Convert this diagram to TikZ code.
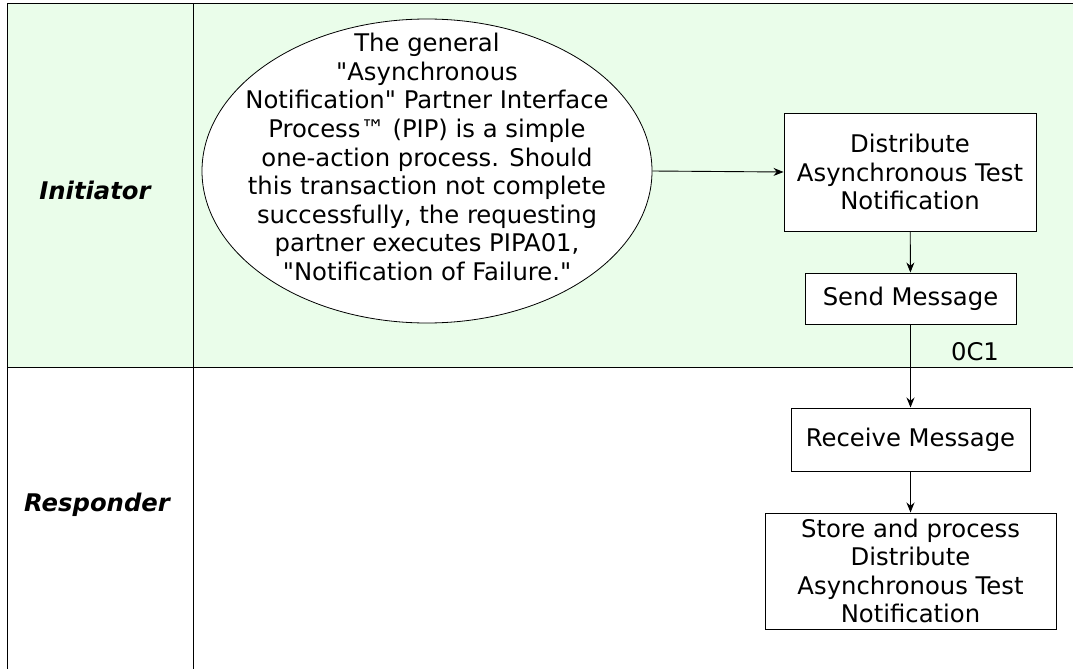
\documentclass[tikz,border=0pt]{standalone}
\usepackage{fontspec}
\setmainfont{DejaVu Sans}[Ligatures=TeXOff]
\usetikzlibrary{shapes.geometric,arrows.meta}
\definecolor{lanegreen}{RGB}{234,253,234}
\begin{document}
\begin{tikzpicture}[x=1pt,y=-1pt,
  every node/.style={font=\fontsize{24.3}{28.6}\selectfont, inner sep=0pt},
  box/.style={draw, line width=1pt, fill=white, align=center},
  lane/.style={font=\fontsize{24.3}{28.6}\selectfont\bfseries\itshape},
  arr/.style={-{Stealth[length=10pt,width=8pt]}, line width=0.9pt},
  frame/.style={line width=1pt}]
\useasboundingbox (0,0) rectangle (1073,669);
\fill[lanegreen] (7,4) rectangle (1073,367);
\draw[frame] (1073,4) -- (7,4) -- (7,669);
\draw[frame] (193,4) -- (193,669);
\draw[frame] (7,367) -- (1073,367);
\node[lane] (ini) at (95,190) {Initiator};
\node[lane] (res) at (97,505) {Responder};
\node[draw, ellipse, line width=0.8pt, fill=white, minimum width=450pt, minimum height=304pt] (ell) at (427,171) {};
\node[align=center] (elltext) at (427,157) {The general\\"Asynchronous\\Notification" Partner Interface\\Process™ (PIP) is a simple\\one-action process. Should\\this transaction not complete\\successfully, the requesting\\partner executes PIPA01,\\"Notification of Failure."};
\node[box, minimum width=252pt, minimum height=118pt] (dist) at (910,172) {Distribute\\Asynchronous Test\\Notification};
\node[box, minimum width=211pt, minimum height=51pt] (send) at (910.5,298.5) {Send Message};
\node[box, minimum width=239pt, minimum height=63pt] (recv) at (910.5,439.5) {Receive Message};
\node[box, minimum width=291pt, minimum height=116pt] (store) at (910.5,571) {Store and process\\Distribute\\Asynchronous Test\\Notification};
\node (oc) at (975,352) {0C1};
\draw[arr] (ell.east) -- (dist.west);
\draw[arr] (dist) -- (send);
\draw[arr] (send) -- (recv);
\draw[arr] (recv) -- (store);
\end{tikzpicture}
\end{document}
